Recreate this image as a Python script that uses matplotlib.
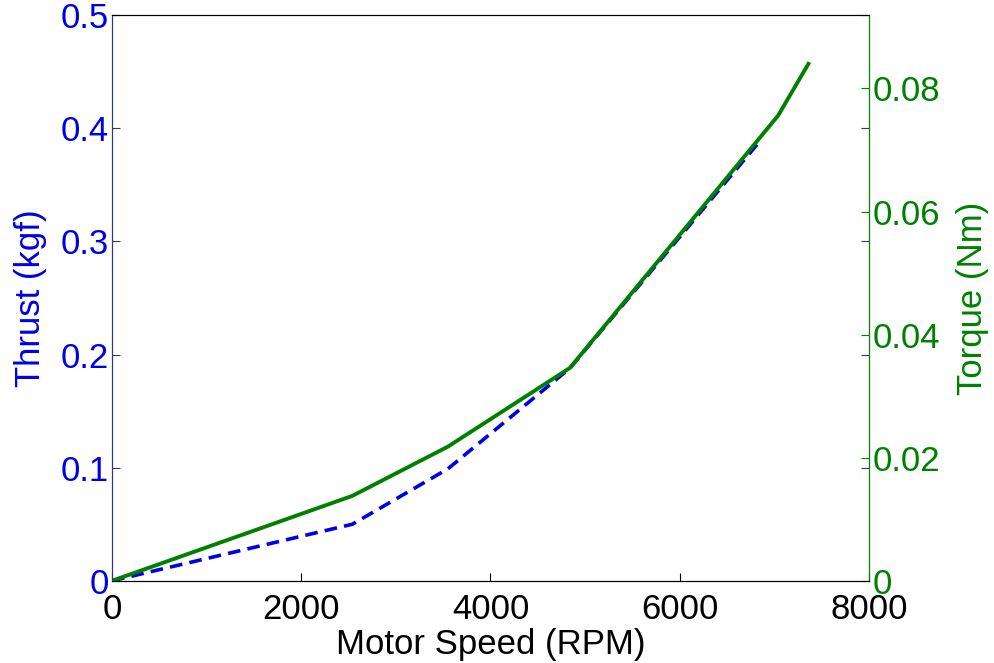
import matplotlib
matplotlib.use("Agg")
import matplotlib.pyplot as plt

plt.rcParams['font.family'] = ['Liberation Sans', 'DejaVu Sans']

# data
rpm_thrust = [0, 2540, 3550, 4840, 6860]
thrust = [0, 0.050, 0.099, 0.188, 0.390]

rpm_torque = [0, 2540, 3550, 4840, 7040, 7360]
torque = [0, 0.0138, 0.0218, 0.0346, 0.0756, 0.0840]

blue = '#0000e6'
green = '#008000'
fs = 25

fig = plt.figure(figsize=(9.94, 6.63), dpi=100)
ax = fig.add_axes([0.1127, 0.124, 0.7615, 0.853])
ax2 = ax.twinx()

ax.plot(rpm_thrust, thrust, color=blue, lw=2.6, ls='--', dashes=(3.5, 2))
ax2.plot(rpm_torque, torque, color=green, lw=2.8)

ax.set_xlim(0, 8000)
ax.set_ylim(0, 0.5)
ax2.set_ylim(0, 0.0919)
ax.set_xticks([0, 2000, 4000, 6000, 8000])
ax.set_yticks([0, 0.1, 0.2, 0.3, 0.4, 0.5])
ax.set_yticklabels(['0', '0.1', '0.2', '0.3', '0.4', '0.5'])
ax2.set_yticks([0, 0.02, 0.04, 0.06, 0.08])
ax2.set_yticklabels(['0', '0.02', '0.04', '0.06', '0.08'])

ax.tick_params(axis='x', direction='in', length=6, labelsize=fs, colors='black', pad=9)
ax.tick_params(axis='y', direction='in', length=6, labelsize=fs, labelcolor=blue,
               color='#333388', right=True, pad=2)
ax2.tick_params(axis='y', direction='in', length=6, labelsize=fs, labelcolor=green,
                color=green, pad=3)

ax.spines['left'].set_color('#333388')
ax.spines['right'].set_color(green)
ax2.spines['right'].set_color(green)
ax2.spines['left'].set_color('#333388')

ax.set_xlabel('Motor Speed (RPM)', fontsize=fs, labelpad=1)
ax.set_ylabel('Thrust (kgf)', fontsize=fs, color=blue, labelpad=10)
ax2.set_ylabel('Torque (Nm)', fontsize=fs, color=green, labelpad=11)

fig.savefig('out.png', dpi=100)
